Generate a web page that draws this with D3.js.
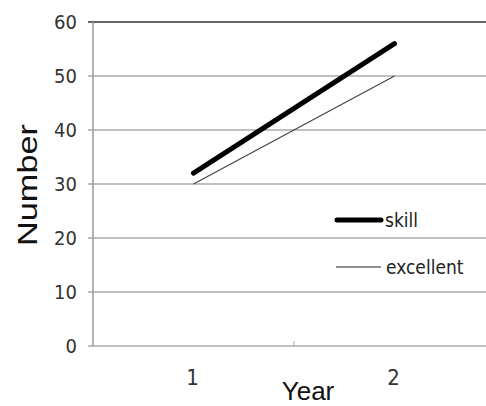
<!doctype html>
<html lang="en">
<head>
    <meta charset="utf-8">
    <script src="https://cdn.jsdelivr.net/npm/d3@7"></script>
    <style>
        body { margin: 0; background: #fff; }
        svg { display: block; }
    </style>
</head>
<body>
    <svg></svg>
    <script>
        var width = 486;
        var height = 406;

        // data
        var years = ['1', '2'];
        var skill = [32, 56];
        var excellent = [30, 50];
        var yTicks = [0, 10, 20, 30, 40, 50, 60];

        var padLeft = 93, padRight = 495, padTop = 22, padBottom = 346;
        var narrow = 'DejaVu Sans Condensed, Liberation Sans Narrow, sans-serif';

        var svg = d3.select('svg').attr('width', width).attr('height', height);

        var xScale = d3.scaleBand().domain(years).range([padLeft, padRight]);
        var yScale = d3.scaleLinear().domain([0, 60]).range([padBottom, padTop]);

        // grid lines
        svg.selectAll('line.grid')
            .data(yTicks)
            .enter()
            .append('line')
            .attr('class', 'grid')
            .attr('x1', padLeft - 5)
            .attr('x2', width)
            .attr('y1', function (d) { return yScale(d); })
            .attr('y2', function (d) { return yScale(d); })
            .attr('stroke', function (d) { return d === 60 ? '#333' : '#aaa'; })
            .attr('stroke-width', 1.5);

        // y axis line
        svg.append('line')
            .attr('x1', padLeft).attr('x2', padLeft)
            .attr('y1', yScale(60)).attr('y2', yScale(0))
            .attr('stroke', '#999').attr('stroke-width', 1.5);

        // x tick between categories
        svg.append('line')
            .attr('x1', xScale('2')).attr('x2', xScale('2'))
            .attr('y1', yScale(0)).attr('y2', yScale(0) - 5)
            .attr('stroke', '#aaa').attr('stroke-width', 1);

        // y tick labels
        svg.selectAll('text.ytick')
            .data(yTicks)
            .enter()
            .append('text')
            .attr('class', 'ytick')
            .attr('x', 77)
            .attr('y', function (d) { return yScale(d); })
            .attr('dy', '0.36em')
            .attr('text-anchor', 'end')
            .attr('font-family', narrow)
            .attr('font-size', 20)
            .attr('fill', '#333')
            .text(function (d) { return d; });

        // x tick labels
        svg.selectAll('text.xtick')
            .data(years)
            .enter()
            .append('text')
            .attr('class', 'xtick')
            .attr('x', function (d) { return xScale(d) + xScale.bandwidth() / 2 - 1; })
            .attr('y', 385)
            .attr('text-anchor', 'middle')
            .attr('font-family', narrow)
            .attr('font-size', 22)
            .attr('fill', '#333')
            .text(function (d) { return d; });

        var line = d3.line()
            .x(function (d, i) { return xScale(years[i]) + xScale.bandwidth() / 2; })
            .y(function (d) { return yScale(d); });

        svg.append('path')
            .datum(excellent)
            .attr('d', line)
            .attr('fill', 'none')
            .attr('stroke', '#444')
            .attr('stroke-width', 1.2);

        svg.append('path')
            .datum(skill)
            .attr('d', line)
            .attr('fill', 'none')
            .attr('stroke', '#000')
            .attr('stroke-width', 5)
            .attr('stroke-linecap', 'round');

        // legend
        svg.append('line')
            .attr('x1', 337).attr('x2', 381).attr('y1', 220).attr('y2', 220)
            .attr('stroke', '#000').attr('stroke-width', 5).attr('stroke-linecap', 'round');
        svg.append('text')
            .attr('x', 385).attr('y', 220).attr('dy', '0.36em')
            .attr('font-family', narrow)
            .attr('font-size', 19).attr('fill', '#222')
            .text('skill');
        svg.append('line')
            .attr('x1', 336).attr('x2', 381).attr('y1', 267).attr('y2', 267)
            .attr('stroke', '#222').attr('stroke-width', 1.2);
        svg.append('text')
            .attr('x', 386).attr('y', 267).attr('dy', '0.36em')
            .attr('font-family', narrow)
            .attr('font-size', 19).attr('fill', '#222')
            .text('excellent');

        // axis titles
        svg.append('text')
            .attr('x', 308).attr('y', 400)
            .attr('text-anchor', 'middle')
            .attr('font-family', 'Liberation Sans, Arial, sans-serif')
            .attr('font-size', 26).attr('fill', '#111')
            .text('Year');
        svg.append('text')
            .attr('transform', 'translate(37,185) rotate(-90)')
            .attr('text-anchor', 'middle')
            .attr('font-family', 'Liberation Sans, Arial, sans-serif')
            .attr('font-size', 28).attr('fill', '#111')
            .attr('textLength', 122)
            .attr('lengthAdjust', 'spacingAndGlyphs')
            .text('Number');
    </script>
</body>
</html>
